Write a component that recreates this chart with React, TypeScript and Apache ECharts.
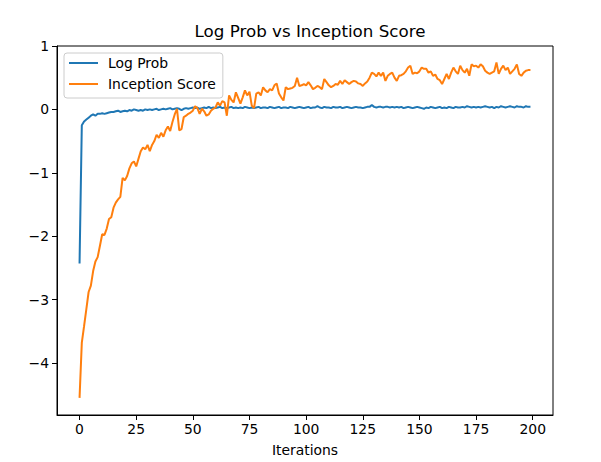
import React, { useEffect, useRef } from "react";
import * as echarts from "echarts";

const TITLE = "Log Prob vs Inception Score";
const X_LABEL = "Iterations";
const SERIES_NAMES = ["Log Prob", "Inception Score"];
const X_TICKS = [0, 25, 50, 75, 100, 125, 150, 175, 200];
const Y_TICKS = [-4, -3, -2, -1, 0, 1];

const logProb = [
  -2.43, -0.25, -0.19, -0.16, -0.13, -0.10, -0.08, -0.10, -0.07, -0.07,
  -0.06, -0.07, -0.06, -0.05, -0.04, -0.04, -0.03, -0.02, -0.04, -0.03,
  -0.02, -0.03, -0.01, -0.02, 0.00, -0.01, -0.02, -0.01, -0.02, 0.00,
  -0.01, 0.00, -0.01, 0.00, 0.01, -0.01, 0.00, 0.01, 0.00, 0.01,
  0.02, 0.00, 0.01, 0.02, 0.01, -0.01, 0.01, 0.02, 0.01, 0.02,
  0.03, 0.02, 0.03, 0.01, 0.02, 0.03, 0.02, 0.04, 0.02, 0.03,
  0.02, 0.03, 0.04, 0.02, 0.03, 0.02, 0.03, 0.04, 0.02, 0.03,
  0.02, 0.03, 0.02, 0.04, 0.03, 0.02, 0.03, 0.02, 0.03, 0.04,
  0.02, 0.03, 0.03, 0.02, 0.04, 0.03, 0.02, 0.03, 0.04, 0.02,
  0.03, 0.03, 0.02, 0.04, 0.03, 0.02, 0.03, 0.04, 0.03, 0.02,
  0.03, 0.04, 0.02, 0.03, 0.03, 0.05, 0.03, 0.02, 0.04, 0.03,
  0.03, 0.02, 0.04, 0.03, 0.03, 0.04, 0.02, 0.03, 0.04, 0.03,
  0.02, 0.03, 0.04, 0.03, 0.03, 0.02, 0.03, 0.04, 0.04, 0.07,
  0.04, 0.03, 0.04, 0.04, 0.03, 0.04, 0.04, 0.03, 0.04, 0.03,
  0.04, 0.03, 0.04, 0.02, 0.03, 0.04, 0.03, 0.02, 0.03, 0.04,
  0.03, 0.02, 0.01, 0.03, 0.02, 0.04, 0.03, 0.02, 0.03, 0.04,
  0.02, 0.03, 0.02, 0.04, 0.03, 0.02, 0.04, 0.03, 0.03, 0.04,
  0.03, 0.05, 0.04, 0.03, 0.04, 0.03, 0.04, 0.03, 0.04, 0.05,
  0.04, 0.03, 0.04, 0.02, 0.04, 0.03, 0.05, 0.04, 0.03, 0.04,
  0.05, 0.04, 0.03, 0.05, 0.04, 0.04, 0.03, 0.05, 0.04, 0.04,
];

const inceptionScore = [
  -4.55, -3.68, -3.42, -3.15, -2.88, -2.78, -2.55, -2.40, -2.33, -2.15,
  -1.97, -1.98, -1.88, -1.73, -1.70, -1.55, -1.47, -1.42, -1.38, -1.08,
  -1.12, -1.05, -0.93, -0.85, -0.82, -0.90, -0.78, -0.66, -0.60, -0.63,
  -0.56, -0.66, -0.56, -0.50, -0.40, -0.45, -0.37, -0.43, -0.33, -0.27,
  -0.34, -0.20, -0.08, 0.01, -0.33, -0.31, -0.12, -0.10, -0.07, -0.05,
  -0.02, 0.05, 0.02, -0.07, 0.01, -0.03, -0.10, -0.08, -0.02, 0.01,
  0.03, 0.11, 0.06, 0.13, 0.11, -0.10, 0.22, 0.15, 0.11, 0.27,
  0.18, 0.09, 0.19, 0.30, 0.22, 0.28, 0.06, 0.02, 0.25, 0.27,
  0.22, 0.35, 0.30, 0.27, 0.32, 0.30, 0.38, 0.41, 0.25, 0.19,
  0.14, 0.35, 0.32, 0.33, 0.34, 0.37, 0.50, 0.37, 0.38, 0.40,
  0.38, 0.43, 0.38, 0.32, 0.34, 0.37, 0.35, 0.32, 0.48, 0.43,
  0.38, 0.35, 0.37, 0.40, 0.39, 0.45, 0.40, 0.46, 0.43, 0.40,
  0.43, 0.45, 0.44, 0.41, 0.40, 0.37, 0.41, 0.44, 0.50, 0.58,
  0.56, 0.52, 0.58, 0.53, 0.58, 0.45, 0.53, 0.56, 0.58, 0.50,
  0.45, 0.53, 0.54, 0.56, 0.60, 0.66, 0.69, 0.56, 0.58, 0.57,
  0.60, 0.66, 0.64, 0.64, 0.58, 0.60, 0.53, 0.55, 0.48, 0.46,
  0.40, 0.48, 0.56, 0.48, 0.58, 0.66, 0.60, 0.56, 0.69, 0.62,
  0.58, 0.64, 0.53, 0.71, 0.68, 0.69, 0.66, 0.71, 0.68, 0.61,
  0.58, 0.56, 0.58, 0.60, 0.74, 0.56, 0.64, 0.69, 0.62, 0.66,
  0.56, 0.60, 0.64, 0.71, 0.56, 0.53, 0.58, 0.61, 0.62, 0.62,
];

const iterations = logProb.map((_, i) => i);

const COLORS = ["#1f77b4", "#ff7f0e"];
const FONT = "DejaVu Sans";

const fmt = (v: number) => (v < 0 ? "\u2212" + Math.abs(v) : String(v));

export default function App() {
  const ref = useRef<HTMLDivElement>(null);
  useEffect(() => {
    document.body.style.margin = "0";
    const chart = echarts.init(ref.current!, null, { renderer: "svg" });
    chart.setOption({
      animation: false,
      backgroundColor: "#ffffff",
      textStyle: { fontFamily: FONT },
      title: {
        text: TITLE,
        left: 305,
        textAlign: "center",
        top: 17,
        textStyle: { fontFamily: FONT, fontSize: 16.7, fontWeight: "normal", color: "#000" },
      },
      grid: {
        left: 57,
        right: 48,
        top: 46,
        bottom: 46,
        show: true,
        borderColor: "#000",
        borderWidth: 1,
        backgroundColor: "transparent",
      },
      legend: {
        orient: "vertical",
        left: 64,
        top: 53,
        padding: [2, 7, 6, 5],
        itemGap: 5,
        itemWidth: 29,
        itemHeight: 2,
        icon: "rect",
        backgroundColor: "rgba(255,255,255,0.8)",
        borderColor: "#cccccc",
        borderWidth: 1,
        borderRadius: 3,
        data: SERIES_NAMES,
        textStyle: {
          fontFamily: FONT,
          fontSize: 13.9,
          color: "#000",
          lineHeight: 16,
          padding: [0, 0, 0, 5],
        },
      },
      xAxis: {
        type: "value",
        min: -9.95,
        max: 208.95,
        name: X_LABEL,
        nameLocation: "middle",
        nameGap: 28,
        nameTextStyle: { fontFamily: FONT, fontSize: 13.9, color: "#000" },
        splitLine: { show: false },
        axisLine: { show: true, onZero: false, lineStyle: { color: "#000", width: 1 } },
        axisTick: { show: true, length: 5, customValues: X_TICKS, lineStyle: { color: "#000" } },
        axisLabel: {
          customValues: X_TICKS,
          margin: 7,
          fontFamily: FONT,
          fontSize: 13.9,
          color: "#000",
          formatter: (v: number) => fmt(v),
        },
      },
      yAxis: {
        type: "value",
        min: -4.82,
        max: 1.0,
        splitLine: { show: false },
        axisLine: { show: true, onZero: false, lineStyle: { color: "#000", width: 1 } },
        axisTick: { show: true, length: 5, customValues: Y_TICKS, lineStyle: { color: "#000" } },
        axisLabel: {
          customValues: Y_TICKS,
          margin: 8,
          fontFamily: FONT,
          fontSize: 13.9,
          color: "#000",
          formatter: (v: number) => fmt(v),
        },
      },
      series: [
        {
          name: SERIES_NAMES[0],
          type: "line",
          showSymbol: false,
          color: COLORS[0],
          lineStyle: { width: 2, color: COLORS[0] },
          data: iterations.map((x, i) => [x, logProb[i]]),
        },
        {
          name: SERIES_NAMES[1],
          type: "line",
          showSymbol: false,
          color: COLORS[1],
          lineStyle: { width: 2, color: COLORS[1] },
          data: iterations.map((x, i) => [x, inceptionScore[i]]),
        },
      ],
    });
    return () => chart.dispose();
  }, []);
  return <div ref={ref} style={{ width: 601, height: 462 }} />;
}
